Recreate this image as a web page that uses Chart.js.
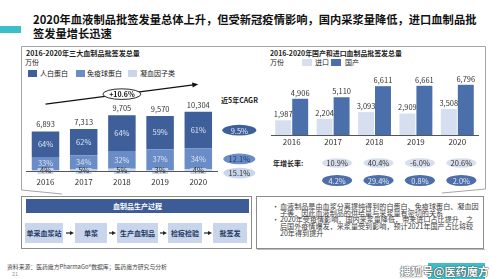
<!DOCTYPE html>
<html>
<head>
<meta charset="utf-8">
<script src="https://cdn.jsdelivr.net/npm/chart.js@4.4.0/dist/chart.umd.min.js"></script>
<style>
  body { margin: 0; width: 500px; height: 279px; position: relative; overflow: hidden; background: #fff;
         font-family: "Noto Sans CJK SC", "Noto Sans", sans-serif; color: #222; }
  .abs { position: absolute; white-space: nowrap; }
  .b { font-weight: bold; }
  .sw { position: absolute; }
  canvas { position: absolute; }
  .step { position: absolute; top: 223px; height: 20px; background: #c8d5eb; color: #1f3864;
          font-size: 7px; font-weight: bold; text-align: center; line-height: 20px; }
  .note { position: absolute; font-size: 7px; color: #3a3a3a; white-space: nowrap; line-height: 7px; }
  .ttl { position: absolute; white-space: nowrap; font-weight: bold; font-size: 11px; line-height: 14px; color: #111; left: 33px; }
</style>
</head>
<body>

<div class="abs" style="left:0;top:26px;width:21px;height:7px;background:#3dbecb"></div>
<div class="ttl" id="ttl1" style="top:12px">2020年血液制品批签发量总体上升，但受新冠疫情影响，国内采浆量降低，进口血制品批</div>
<div class="ttl" id="ttl2" style="top:26px">签发量增长迅速</div>

<svg class="abs" style="left:0;top:0" width="500" height="279">
  <polyline points="62,194 21.5,190 21.5,46.5 485.5,46.5 485.5,189 442,193" fill="none" stroke="#a6a6a6" stroke-width="1"/>
  <rect x="21.5" y="196.5" width="230" height="52" fill="none" stroke="#8c8c8c"/>
  <rect x="256.5" y="196.5" width="227" height="52" fill="none" stroke="#8c8c8c"/>
  <line x1="257" y1="249.5" x2="485" y2="249.5" stroke="#bbb"/>
  <g stroke="#222" stroke-width="1.2" fill="#222">
    <line x1="66" y1="233" x2="71" y2="233"/><polygon points="74,233 70,231 70,235" stroke="none"/>
    <line x1="109" y1="233" x2="113" y2="233"/><polygon points="116,233 112,231 112,235" stroke="none"/>
    <line x1="160" y1="233" x2="164" y2="233"/><polygon points="167,233 163,231 163,235" stroke="none"/>
    <line x1="204" y1="233" x2="209" y2="233"/><polygon points="212,233 208,231 208,235" stroke="none"/>
  </g>
</svg>

<!-- left panel headings -->
<div class="abs b" data-w="114" style="left:26px;top:49px;font-size:7px;line-height:8px">2016-2020年三大血制品批签发总量</div>
<div class="abs" style="left:25px;top:57.5px;font-size:7px;line-height:8px">万份</div>
<div class="sw" style="left:28px;top:70px;width:9px;height:6.5px;background:#3f5f9a"></div>
<div class="abs" style="left:40px;top:69px;font-size:7px;line-height:8px">人白蛋白</div>
<div class="sw" style="left:76px;top:70px;width:9px;height:6.5px;background:#6a8cc7"></div>
<div class="abs" style="left:87px;top:69px;font-size:7px;line-height:8px">免疫球蛋白</div>
<div class="sw" style="left:128px;top:70px;width:9px;height:6.5px;background:#c9d5ea"></div>
<div class="abs" style="left:140px;top:69px;font-size:7px;line-height:8px">凝血因子类</div>
<div class="abs b" style="left:221px;top:96px;font-size:7px;line-height:8px">近5年CAGR</div>

<!-- right panel headings -->
<div class="abs b" data-w="132" style="left:270px;top:49px;font-size:7px;line-height:8px">2016-2020年国产和进口血制品批签发总量</div>
<div class="abs" style="left:270px;top:58px;font-size:7px;line-height:8px">万份</div>
<div class="sw" style="left:302px;top:59px;width:10px;height:7px;background:#d6dfef"></div>
<div class="abs" style="left:315px;top:58px;font-size:7px;line-height:8px">进口</div>
<div class="sw" style="left:331px;top:59px;width:10px;height:7px;background:#4b6fab"></div>
<div class="abs" style="left:345px;top:58px;font-size:7px;line-height:8px">国产</div>
<div class="abs b" style="left:273px;top:159px;font-size:7px;line-height:8px">年增长率:</div>

<canvas id="leftChart" width="242" height="116" style="left:20px;top:76px"></canvas>
<canvas id="rightChart" width="224" height="120" style="left:262px;top:70px"></canvas>

<!-- flow -->
<div class="abs b" style="left:26px;top:199px;width:223px;height:14px;background:#3d5c96;color:#fff;font-size:7px;line-height:14px;text-align:center">血制品生产过程</div>
<div class="step" style="left:25px;width:38px">单采血浆站</div>
<div class="step" style="left:75px;width:32px">单浆</div>
<div class="step" style="left:117px;width:41px">生产血制品</div>
<div class="step" style="left:168px;width:34px">检疫检验</div>
<div class="step" style="left:213px;width:34px">批签发</div>

<div class="note" style="left:272px;top:203px">•</div>
<div class="note" id="note1" style="left:280px;top:203px">血液制品是由血浆分离提纯得到的白蛋白、免疫球蛋白、凝血因</div>
<div class="note" style="left:280px;top:209.7px">子等，因此血液制品的供给量与采浆量有密切的关系</div>
<div class="note" style="left:272px;top:216.4px">•</div>
<div class="note" style="left:280px;top:216.4px">2020年受疫情影响，国内采浆量降低，带来进口占比提升，之</div>
<div class="note" style="left:280px;top:223.1px">后国外疫情爆发，采浆量受到影响，预计2021年国产占比将较</div>
<div class="note" style="left:280px;top:229.8px">20年得到提升</div>

<div class="abs" data-w="160" style="left:7px;top:262.5px;font-size:5.8px;line-height:7px;color:#444">资料来源：医药魔方PharmaGo®数据库；医药魔方研究与分析</div>
<div class="abs" style="left:12px;top:271px;font-size:5.5px;line-height:6px;color:#999">21</div>

<div class="abs" style="left:428px;top:263px;width:57px;height:17px;background:#3dbecb"></div>
<div class="abs b" data-w="89" style="left:400px;top:264px;font-size:11px;line-height:14px;color:#fff;text-shadow:0 0 1px #222,0 0 1px #222">搜狐号@医药魔方</div>

<script>
// ---- left chart data: three major plasma products, 万份
const years = ["2016", "2017", "2018", "2019", "2020"];
const totals = [6893, 7313, 9705, 9570, 10304];
const albuminShare = [64, 62, 64, 59, 61];
const immunoShare = [33, 34, 32, 37, 34];
const factorShare = [4, 5, 5, 3, 4];
const cagrLabels = ["9.5%", "12.1%", "15.1%"]; // albumin, immuno, factor
const trendLabel = "+10.6%";

// ---- right chart data: import vs domestic, 万份
const importVol = [1987, 2204, 3093, 2909, 3508];
const domesticVol = [4906, 5110, 6611, 6661, 6796];
const importGrowth = ["10.9%", "40.4%", "-6.0%", "20.6%"];
const domesticGrowth = ["4.2%", "29.4%", "0.8%", "2.0%"];

const DARK = "#3f5f9a", MID = "#6a8cc7", LIGHT = "#c9d5ea";
const IMP = "#d6dfef", DOM = "#4b6fab";

// fit a few text runs to the widths
function fitTo(el, w) {
  const fs = parseFloat(getComputedStyle(el).fontSize);
  return fs * w / el.getBoundingClientRect().width;
}
document.querySelectorAll("[data-w]").forEach(el => {
  el.style.fontSize = fitTo(el, +el.dataset.w) + "px";
});
const tfs = fitTo(document.getElementById("ttl1"), 444);
document.querySelectorAll(".ttl").forEach(el => el.style.fontSize = tfs + "px");
const nfs = fitTo(document.getElementById("note1"), 199);
document.querySelectorAll(".note").forEach(el => el.style.fontSize = nfs + "px");

Chart.defaults.font.family = '"Noto Sans CJK SC", "Noto Sans", sans-serif';
Chart.defaults.color = "#333";

function fmt(v) {
  return v.toLocaleString("en-US");
}

function ellipse(ctx, cx, cy, rx, ry, fill, text, textColor) {
  ctx.beginPath();
  ctx.ellipse(cx, cy, rx, ry, 0, 0, Math.PI * 2);
  ctx.fillStyle = fill;
  ctx.fill();
  ctx.fillStyle = textColor;
  ctx.fillText(text, cx, cy + 0.5);
}

// segment values from total and share
const shareSets = [factorShare, immunoShare, albuminShare];
const segValues = shareSets.map(s => totals.map((t, i) => {
  const sum = albuminShare[i] + immunoShare[i] + factorShare[i];
  return t * s[i] / sum;
}));

const leftLabels = {
  id: "leftLabels",
  afterDatasetsDraw(chart) {
    const ctx = chart.ctx;
    const metas = [0, 1, 2].map(i => chart.getDatasetMeta(i));
    ctx.save();
    ctx.textAlign = "center";
    ctx.textBaseline = "middle";
    ctx.font = '7.5px "Noto Sans CJK SC", sans-serif';

    metas[0].data.forEach((bar, i) => {
      // small factor segment label sits on the baseline
      ctx.fillStyle = LIGHT;
      ctx.fillRect(bar.x - 8, bar.base - 3.5, 16, 6);
      ctx.fillStyle = "#333";
      ctx.fillText(factorShare[i] + "%", bar.x, bar.base - 1);

      const mid = metas[1].data[i];
      ctx.fillStyle = "#dbe3f1";
      ctx.fillText(immunoShare[i] + "%", mid.x, (mid.y + mid.base) / 2);
      const top = metas[2].data[i];
      ctx.fillText(albuminShare[i] + "%", top.x, (top.y + top.base) / 2);

      ctx.fillStyle = "#333";
      ctx.fillText(fmt(totals[i]), top.x, top.y - 7);
    });

    // trend arrow above the bars
    const first = metas[2].data[0], last = metas[2].data[metas[2].data.length - 1];
    const x1 = first.x, y1 = first.y - 27.5, x2 = last.x, y2 = last.y - 27.5;
    ctx.strokeStyle = "#111";
    ctx.lineWidth = 1.3;
    ctx.beginPath();
    ctx.moveTo(x1, y1);
    ctx.lineTo(x2 - 3, y2 + 0.4);
    ctx.stroke();
    const ang = Math.atan2(y2 - y1, x2 - x1);
    ctx.fillStyle = "#111";
    ctx.beginPath();
    ctx.moveTo(x2, y2);
    ctx.lineTo(x2 - 6 * Math.cos(ang) + 2.5 * Math.sin(ang), y2 - 6 * Math.sin(ang) - 2.5 * Math.cos(ang));
    ctx.lineTo(x2 - 6 * Math.cos(ang) - 2.5 * Math.sin(ang), y2 - 6 * Math.sin(ang) + 2.5 * Math.cos(ang));
    ctx.closePath();
    ctx.fill();

    const mx = (x1 + x2) / 2, my = (y1 + y2) / 2;
    ctx.beginPath();
    ctx.ellipse(mx, my, 19, 5.3, 0, 0, Math.PI * 2);
    ctx.fillStyle = "#fff";
    ctx.fill();
    ctx.lineWidth = 0.9;
    ctx.stroke();
    ctx.font = 'bold 7px "Noto Sans CJK SC", sans-serif';
    ctx.fillStyle = "#111";
    ctx.fillText(trendLabel, mx, my + 0.5);

    // CAGR bubbles next to the 2020 stack
    ctx.font = '7.5px "Noto Sans CJK SC", sans-serif';
    const cx = last.x + 41;
    const midLast = metas[1].data[4];
    ellipse(ctx, cx, (last.y + last.base) / 2, 17, 5.3, DARK, cagrLabels[0], "#e6ecf6");
    ellipse(ctx, cx, (midLast.y + midLast.base) / 2, 16, 5.3, MID, cagrLabels[1], "#1f3864");
    ellipse(ctx, cx, metas[0].data[4].base + 1.5, 16, 5.3, LIGHT, cagrLabels[2], "#333");
    ctx.restore();
  }
};

new Chart(document.getElementById("leftChart"), {
  type: "bar",
  data: {
    labels: years,
    datasets: [
      { label: "凝血因子类", data: segValues[0], backgroundColor: LIGHT },
      { label: "免疫球蛋白", data: segValues[1], backgroundColor: MID },
      { label: "人白蛋白", data: segValues[2], backgroundColor: DARK }
    ]
  },
  options: {
    responsive: false,
    devicePixelRatio: 1,
    animation: false,
    layout: { padding: { left: 6.4, right: 44.6, top: 0, bottom: 0 } },
    datasets: { bar: { categoryPercentage: 0.72, barPercentage: 1 } },
    plugins: { legend: { display: false }, tooltip: { enabled: false } },
    scales: {
      x: {
        stacked: true,
        grid: { display: false, drawTicks: false },
        border: { display: true, color: "#555", width: 1, z: 1 },
        ticks: { padding: 5.4, font: { size: 8 }, color: "#333" }
      },
      y: { stacked: true, display: false, min: 0, max: 16450 }
    }
  },
  plugins: [leftLabels]
});

const rightLabels = {
  id: "rightLabels",
  afterDatasetsDraw(chart) {
    const ctx = chart.ctx;
    const xs = chart.scales.x;
    const bottom = chart.chartArea.bottom;
    ctx.save();
    ctx.textAlign = "center";
    ctx.textBaseline = "middle";
    ctx.font = '7.5px "Noto Sans CJK SC", sans-serif';
    ctx.fillStyle = "#333";
    [importVol, domesticVol].forEach((vals, di) => {
      chart.getDatasetMeta(di).data.forEach((bar, i) => {
        ctx.fillText(fmt(vals[i]), bar.x, bar.y - 6);
      });
    });
    importGrowth.forEach((g, i) => {
      const cx = xs.getPixelForValue(i + 1) + 4;
      ellipse(ctx, cx, bottom + 28, 15, 4.8, "#d7dfee", g, "#333");
      ellipse(ctx, cx, bottom + 45.5, 15, 5.5, "#4d6ea8", domesticGrowth[i], "#e6ecf6");
    });
    ctx.restore();
  }
};

new Chart(document.getElementById("rightChart"), {
  type: "bar",
  data: {
    labels: years,
    datasets: [
      { label: "进口", data: importVol, backgroundColor: IMP },
      { label: "国产", data: domesticVol, backgroundColor: DOM }
    ]
  },
  options: {
    responsive: false,
    devicePixelRatio: 1,
    animation: false,
    layout: { padding: { left: 9, right: 8, top: 0, bottom: 41.4 } },
    datasets: { bar: { categoryPercentage: 0.82, barPercentage: 0.94 } },
    plugins: { legend: { display: false }, tooltip: { enabled: false } },
    scales: {
      x: {
        grid: { display: false, drawTicks: false },
        border: { display: true, color: "#555", width: 1 },
        ticks: { padding: 2, font: { size: 8 }, color: "#333" }
      },
      y: { display: false, min: 0, max: 8800 }
    }
  },
  plugins: [rightLabels]
});
</script>
</body>
</html>
